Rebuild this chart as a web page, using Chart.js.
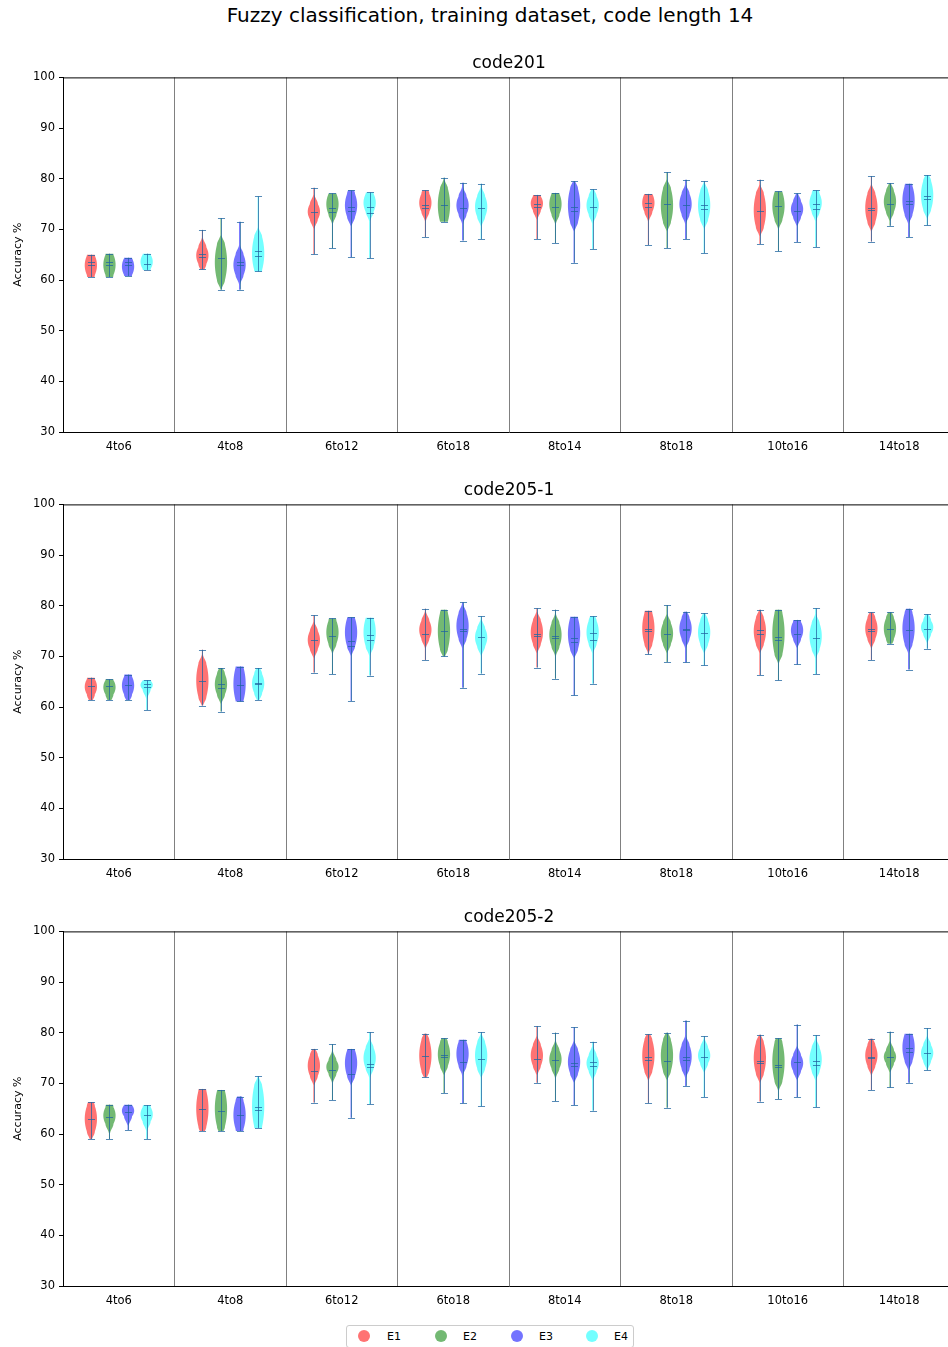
<!DOCTYPE html>
<html>
<head>
<title>Fuzzy classification</title>
<script src="https://cdn.jsdelivr.net/npm/chart.js"></script>
<style>
body{
  margin:0;
  background:#fff;
  font-family:"DejaVu Sans";
  width:948px;
  height:1347px;
  overflow:hidden;
  position:relative;
}
.suptitle{
  position:absolute;
  left:0; top:3px;
  width:980px;
  text-align:center;
  font-size:20px;
  color:#000;
}
.panel{
  position:absolute;
  left:0;
}
.legend{
  position:absolute;
  left:346px; top:1325px;
  width:286px; height:21px;
  border:1px solid #ccc;
  border-radius:3px;
  font-size:11px;
  color:#000;
}
.legend span{
  position:absolute;
  top:4px;
}
.legend i{
  position:absolute;
  top:4px;
  width:12px; height:12px;
  border-radius:50%;
}
</style>
</head>
<body>

<div class="suptitle">Fuzzy classification, training dataset, code length 14</div>

<div class="panel" style="top:40px"><canvas id="c1" width="956" height="427"></canvas></div>
<div class="panel" style="top:467px"><canvas id="c2" width="956" height="427"></canvas></div>
<div class="panel" style="top:894px"><canvas id="c3" width="956" height="427"></canvas></div>

<div class="legend">
  <i style="left:11px;background:rgba(255,0,0,0.55)"></i><span style="left:40px">E1</span>
  <i style="left:88px;background:rgba(0,128,0,0.55)"></i><span style="left:116px">E2</span>
  <i style="left:164px;background:rgba(0,0,255,0.55)"></i><span style="left:192px">E3</span>
  <i style="left:239px;background:rgba(0,255,255,0.55)"></i><span style="left:267px">E4</span>
</div>

<script>

// ================= DATA =================
const categories = ['4to6','4to8','6to12','6to18','8to14','8to18','10to16','14to18'];
const series = ['E1','E2','E3','E4'];
const yTicks = [30,40,50,60,70,80,90,100];

// code201 : rows E1..E4, columns = categories
const c201Min  = [[60.6,62.1,65.1,68.5,68.1,66.9,67.1,67.6],[60.6,58.1,66.3,71.5,67.3,66.3,65.7,70.7],[60.8,58.1,64.5,67.8,63.4,68.1,67.5,68.5],[62.0,61.7,64.3,68.1,66.1,65.3,66.5,70.8]];
const c201Max  = [[65.0,69.9,78.2,77.7,76.8,77.0,79.8,80.5],[65.2,72.2,77.1,80.2,77.2,81.3,77.5,79.1],[64.4,71.5,77.7,79.2,79.5,79.8,77.1,79.0],[65.2,76.5,77.3,79.0,77.9,79.5,77.7,80.7]];
const c201Med  = [[63.6,65.1,73.5,74.8,75.0,75.3,73.6,74.2],[63.5,64.4,74.2,74.8,74.4,75.0,74.6,75.0],[63.5,63.6,74.4,74.3,74.4,74.8,73.7,75.6],[63.2,65.8,74.5,74.2,74.4,74.8,75.0,76.5]];
const c201Mean = [[62.9,64.6,null,74.3,74.4,74.4,null,73.9],[63.0,null,73.5,null,null,null,null,null],[62.9,62.9,73.7,null,73.7,null,null,75.1],[null,64.8,73.3,null,null,74.0,74.0,75.9]];
const c201Lo   = [[61.0,63.2,72.0,73.5,73.8,73.5,70.5,71.5],[61.0,60.0,73.0,71.6,73.0,71.5,72.0,73.5],[61.0,61.0,72.5,73.0,71.5,73.0,72.5,73.0],[62.2,62.0,73.5,72.5,73.0,72.0,73.5,74.0]];
const c201Hi   = [[64.8,66.5,75.0,77.0,76.5,77.0,77.0,77.0],[65.0,67.0,77.0,78.0,77.0,78.0,77.3,77.5],[64.3,65.0,77.0,76.5,78.0,77.0,75.5,78.5],[65.0,68.5,77.0,76.5,76.5,77.5,77.0,79.5]];

// code205-1
const c2051Min  = [[61.4,60.3,66.8,69.3,67.8,70.4,66.3,69.3],[61.4,59.1,66.5,70.0,65.6,68.9,65.3,72.5],[61.4,61.1,61.2,63.8,62.3,68.8,68.4,67.4],[59.4,61.4,66.2,66.6,64.6,68.2,66.5,71.5]];
const c2051Max  = [[65.8,71.3,78.1,79.4,79.5,79.0,79.2,78.7],[65.5,67.7,77.5,79.2,79.2,80.1,79.2,78.7],[66.4,68.0,77.7,80.7,77.8,78.8,77.2,79.4],[65.3,67.7,77.6,77.9,77.9,78.5,79.5,78.3]];
const c2051Med  = [[64.2,65.1,73.3,74.5,74.5,75.5,75.2,75.5],[64.2,64.6,74.0,75.1,74.0,74.4,73.9,75.4],[64.3,64.4,73.0,75.4,73.7,75.4,74.4,75.2],[64.5,64.8,74.2,73.8,74.6,74.6,73.6,75.4]];
const c2051Mean = [[null,null,null,null,74.0,75.0,74.4,75.0],[null,63.8,null,null,73.7,null,73.2,null],[null,null,72.0,75.0,72.8,75.2,null,null],[64.0,64.5,73.2,null,73.2,null,null,null]];
const c2051Lo   = [[62.5,62.0,71.5,73.5,72.5,72.5,72.5,73.5],[62.5,62.5,72.5,71.5,72.0,72.5,70.5,73.5],[62.5,61.3,72.0,73.5,71.5,73.5,73.5,72.5],[63.5,62.8,72.0,72.0,72.5,72.5,71.5,74.5]];
const c2051Hi   = [[65.5,68.5,75.0,77.0,77.0,78.5,77.5,77.5],[65.3,66.5,77.0,78.5,76.5,76.5,78.5,77.5],[66.0,67.8,77.5,78.5,77.5,77.5,76.8,78.5],[65.2,66.5,77.5,75.5,77.0,77.0,76.5,77.0]];

// code205-2
const c2052Min  = [[59.0,60.6,66.2,71.2,70.1,66.1,66.4,68.7],[59.0,60.6,66.7,68.1,66.5,65.2,66.9,69.2],[60.8,60.6,63.2,66.1,65.7,69.5,67.3,70.1],[59.0,61.2,65.9,65.5,64.6,67.3,65.3,72.6]];
const c2052Max  = [[66.3,68.9,76.8,79.8,81.3,79.7,79.6,78.8],[65.8,68.7,77.7,78.9,80.0,80.0,78.9,80.2],[65.8,67.4,76.8,78.6,81.1,82.4,81.6,79.8],[65.7,71.4,80.1,80.1,78.2,79.3,79.5,80.9]];
const c2052Med  = [[63.0,64.9,72.5,75.4,74.9,75.2,74.5,75.3],[63.4,64.6,72.7,75.6,74.6,74.4,73.6,75.2],[64.4,63.7,71.9,74.2,74.0,75.2,74.2,76.9],[63.7,65.3,73.8,74.8,74.3,75.2,74.4,75.9]];
const c2052Mean = [[null,null,null,null,null,74.6,74.1,75.0],[null,null,null,75.2,null,null,73.3,null],[null,null,null,null,73.5,74.6,null,76.1],[null,64.7,73.3,null,73.5,null,73.6,null]];
const c2052Lo   = [[60.5,61.5,71.5,72.5,73.5,72.5,72.0,73.5],[62.0,61.5,72.0,73.5,73.0,72.5,70.5,74.0],[63.5,61.0,71.5,73.5,72.0,73.0,72.5,74.5],[62.5,61.5,73.0,73.0,72.5,74.0,72.5,74.5]];
const c2052Hi   = [[65.5,68.5,75.5,78.5,77.5,78.5,78.0,77.5],[65.3,68.5,74.5,78.0,76.5,78.5,78.0,76.5],[65.7,66.5,76.5,78.2,76.5,77.5,75.5,79.7],[65.3,69.5,77.0,78.0,75.5,77.0,77.0,77.5]];

const fills = ['rgba(255,0,0,0.55)','rgba(0,128,0,0.55)','rgba(0,0,255,0.55)','rgba(0,255,255,0.55)'];
const lineColor = 'rgba(31,100,160,0.75)';

// ================= VIOLIN SHAPE =================
function halfWidth(v, lo, hi, W){
  if(v>=lo && v<=hi){
    const c=(lo+hi)/2, h=Math.max((hi-lo)/2,0.01);
    const t=(v-c)/h;
    return W*(1-0.35*t*t);
  }
  const d = v<lo ? lo-v : v-hi;
  return Math.max(0.65*W*Math.exp(-(d/1.3)*(d/1.3)), 0.08*W);
}

const violinPlugin = {
  id:'violins',
  afterDatasetsDraw(chart){
    const {ctx, chartArea, scales} = chart;
    const y = scales.y;
    ctx.save();
    // top spine
    ctx.strokeStyle='#000';
    ctx.lineWidth=1;
    ctx.beginPath();
    ctx.moveTo(chartArea.left, chartArea.top+0.5);
    ctx.lineTo(chartArea.right, chartArea.top+0.5);
    ctx.stroke();

    chart.data.datasets.forEach((ds, di)=>{
      const meta = chart.getDatasetMeta(di);
      const s = ds.violin;
      meta.data.forEach((bar, i)=>{
        const x = bar.x;
        const W = bar.width*0.33;
        const cap = bar.width*0.19;
        const mn=s.min[i], mx=s.max[i], lo=s.lo[i], hi=s.hi[i];
        const steps=80;
        ctx.beginPath();
        for(let k=0;k<=steps;k++){
          const v=mn+(mx-mn)*k/steps;
          ctx.lineTo(x+halfWidth(v,lo,hi,W), y.getPixelForValue(v));
        }
        for(let k=steps;k>=0;k--){
          const v=mn+(mx-mn)*k/steps;
          ctx.lineTo(x-halfWidth(v,lo,hi,W), y.getPixelForValue(v));
        }
        ctx.closePath();
        ctx.fillStyle=fills[di];
        ctx.fill();

        // bars, caps, median, mean
        ctx.strokeStyle=lineColor;
        ctx.lineWidth=1;
        const px=Math.round(x)+0.5;
        const hline=(v)=>{
          const py=Math.round(y.getPixelForValue(v))+0.5;
          ctx.moveTo(px-cap,py); ctx.lineTo(px+cap,py);
        };
        ctx.beginPath();
        ctx.moveTo(px, y.getPixelForValue(mn));
        ctx.lineTo(px, y.getPixelForValue(mx));
        hline(mn); hline(mx); hline(s.med[i]);
        if(s.mean[i]!==null) hline(s.mean[i]);
        ctx.stroke();
      });
    });
    ctx.restore();
  }
};

// ================= CHARTS =================
function makeChart(id, title, mins, maxs, meds, means, los, his){
  const datasets = series.map((name, k)=>({
    label:name,
    data:mins[k].map((m,i)=>[m, maxs[k][i]]),
    backgroundColor:'rgba(0,0,0,0)',
    borderWidth:0,
    categoryPercentage:0.667,
    barPercentage:1.0,
    violin:{min:mins[k], max:maxs[k], med:meds[k], mean:means[k], lo:los[k], hi:his[k]}
  }));

  return new Chart(document.getElementById(id),{
    type:'bar',
    data:{labels:categories, datasets:datasets},
    plugins:[violinPlugin],
    options:{
      responsive:false,
      animation:false,
      devicePixelRatio:1,
      layout:{padding:{left:0,right:1,top:0,bottom:0}},
      plugins:{
        legend:{display:false},
        tooltip:{enabled:false},
        title:{
          display:true,
          text:title,
          fullSize:false,
          color:'#000',
          font:{family:'DejaVu Sans', size:17, weight:'normal'},
          padding:{top:13,bottom:4}
        }
      },
      scales:{
        x:{
          type:'category',
          offset:true,
          grid:{offset:true, color:'#808080', drawTicks:false, lineWidth:1},
          border:{display:true, color:'#000'},
          ticks:{color:'#000', font:{family:'DejaVu Sans', size:11.5}, padding:8},
          afterFit(scale){ scale.height=35; }
        },
        y:{
          min:30, max:100,
          afterBuildTicks(scale){ scale.ticks = yTicks.map(v=>({value:v})); },
          grid:{drawOnChartArea:false, drawTicks:true, tickLength:4, color:'#000'},
          border:{display:true, color:'#000'},
          ticks:{color:'#000', font:{family:'DejaVu Sans', size:11.5}, padding:4},
          title:{display:true, text:'Accuracy %', color:'#000', font:{family:'DejaVu Sans', size:11}, padding:{top:12,bottom:0}},
          afterFit(scale){ scale.width=63; }
        }
      }
    }
  });
}

makeChart('c1','code201',  c201Min,  c201Max,  c201Med,  c201Mean,  c201Lo,  c201Hi);
makeChart('c2','code205-1',c2051Min, c2051Max, c2051Med, c2051Mean, c2051Lo, c2051Hi);
makeChart('c3','code205-2',c2052Min, c2052Max, c2052Med, c2052Mean, c2052Lo, c2052Hi);

</script>
</body>
</html>
